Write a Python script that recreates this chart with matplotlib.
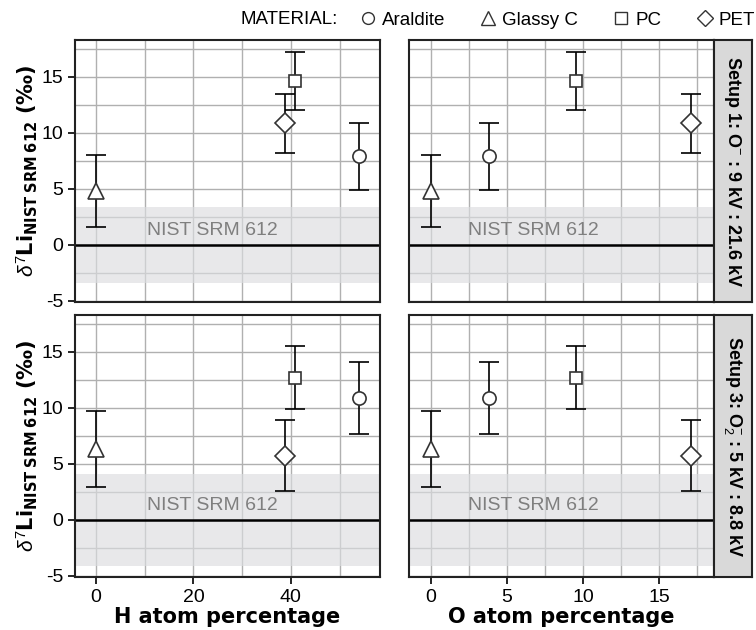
import matplotlib
matplotlib.use("Agg")
import matplotlib.pyplot as plt
import matplotlib.transforms as mtransforms
from matplotlib.lines import Line2D
from matplotlib.ticker import MultipleLocator

plt.rcParams['font.family'] = ['Liberation Sans', 'DejaVu Sans']
plt.rcParams['mathtext.fontset'] = 'custom'
plt.rcParams['mathtext.rm'] = 'Liberation Sans'
plt.rcParams['mathtext.bf'] = 'DejaVu Sans:bold'
plt.rcParams['mathtext.it'] = 'Liberation Sans:italic'

# ---- data ----
materials = ['Araldite', 'Glassy C', 'PC', 'PET']
markers = ['o', '^', 's', 'D']
H_pct = [54.0, 0.0, 40.8, 38.9]
O_pct = [3.8, 0.0, 9.55, 17.1]
setups = ['Setup 1: O$^{-}$ : 9 kV : 21.6 kV', 'Setup 3: O$_2^{-}$ : 5 kV : 8.8 kV']
delta_setup1 = [7.9, 4.8, 14.65, 10.85]
err_setup1 = [3.0, 3.2, 2.6, 2.6]
delta_setup3 = [10.9, 6.3, 12.7, 5.75]
err_setup3 = [3.2, 3.4, 2.8, 3.15]
nist_band = [3.4, 4.1]

deltas = [delta_setup1, delta_setup3]
errs = [err_setup1, err_setup3]
xvals = [H_pct, O_pct]
xlabels = ['H atom percentage', 'O atom percentage']
xlims = [(-4.3, 58.3), (-1.43, 18.6)]
xmajor = [20, 5]
xminor = [10, 2.5]
text_frac = [0.449, 0.407]

W, H = 756, 630
fig = plt.figure(figsize=(W / 100, H / 100), dpi=100)

def fx(px):
    return px / W

def fy(py):
    return 1 - py / H

col_left = [75, 409]
col_w = 305
row_top = [40, 315]
row_h = 262

mcol = '#333333'
msize = {'o': 9.5, '^': 11.5, 's': 9.0, 'D': 9.8}

for r in range(2):
    for c in range(2):
        ax = fig.add_axes([fx(col_left[c]), fy(row_top[r] + row_h), col_w / W, row_h / H])
        ax.set_xlim(*xlims[c])
        ax.set_ylim(-5.1, 18.3)
        ax.xaxis.set_major_locator(MultipleLocator(xmajor[c]))
        ax.xaxis.set_minor_locator(MultipleLocator(xminor[c]))
        ax.yaxis.set_major_locator(MultipleLocator(5))
        ax.yaxis.set_minor_locator(MultipleLocator(2.5))
        ax.grid(True, which='both', color='#b0b0b0', lw=1.0, zorder=0)
        ax.set_axisbelow(True)
        ax.axhspan(-nist_band[r], nist_band[r], color='#dcdde0', alpha=0.65, lw=0, zorder=1)
        ax.axhline(0, color='black', lw=1.8, zorder=2)
        ax.text(text_frac[c], 1.3, 'NIST SRM 612',
                transform=mtransforms.blended_transform_factory(ax.transAxes, ax.transData),
                ha='center', va='center', color='#7f7f7f', fontsize=14, zorder=3)
        for i, m in enumerate(materials):
            ax.errorbar(xvals[c][i], deltas[r][i], yerr=errs[r][i], fmt='none',
                        ecolor='black', elinewidth=1.2, capsize=7.5, capthick=1.2, zorder=4)
            ax.plot(xvals[c][i], deltas[r][i], marker=markers[i], ms=msize[markers[i]],
                    mfc='white', mec=mcol, mew=1.2, ls='none', zorder=5)
        for s in ax.spines.values():
            s.set_linewidth(1.5)
            s.set_color('#222222')
        ax.tick_params(which='minor', length=0)
        ax.tick_params(which='major', direction='out', length=5, width=1.2, labelsize=14, colors='black')
        if c == 1:
            ax.tick_params(axis='y', which='major', left=False, labelleft=False)
        else:
            ax.set_yticks([-5, 0, 5, 10, 15])
            ax.set_yticklabels(['-5', '0', '5', '10', '15'])
        if r == 0:
            ax.tick_params(axis='x', which='major', bottom=False, labelbottom=False)
        else:
            ax.set_xlabel(xlabels[c], fontsize=15, fontweight='bold', labelpad=1,
                          family=['DejaVu Sans'])
    # strip
    sax = fig.add_axes([fx(714), fy(row_top[r] + row_h), 38 / W, row_h / H])
    sax.set_facecolor('#d9d9d9')
    sax.set_xticks([]); sax.set_yticks([])
    for s in sax.spines.values():
        s.set_linewidth(1.5)
        s.set_color('#222222')
    sax.text(0.5, 0.5, setups[r], rotation=270, ha='center', va='center',
             fontsize=13, fontweight='bold', transform=sax.transAxes)
    # y label
    fig.text(fx(27), fy(row_top[r] + row_h / 2),
             r'$\delta^7\mathbf{Li}_{\mathbf{NIST\ SRM\ 612}}$ (‰)',
             rotation=90, ha='center', va='center', fontsize=15, fontweight='bold',
             family=['DejaVu Sans'])

# legend
fig.text(fx(240), fy(20), 'MATERIAL:', fontsize=13.5, ha='left', va='center')
lsize = {'o': 8.5, '^': 10, 's': 8, 'D': 8.5}
handles = [Line2D([], [], marker=mk, ls='none', mfc='white', mec=mcol, mew=1.0,
                  ms=lsize[mk]) for mk in markers]
fig.legend(handles, materials, loc='center right', bbox_to_anchor=(fx(755), fy(20)),
           ncol=4, frameon=False, fontsize=13.5, handlelength=0.9, handletextpad=0.3,
           columnspacing=1.85, borderpad=0, borderaxespad=0)

fig.savefig('out.png', dpi=100)
